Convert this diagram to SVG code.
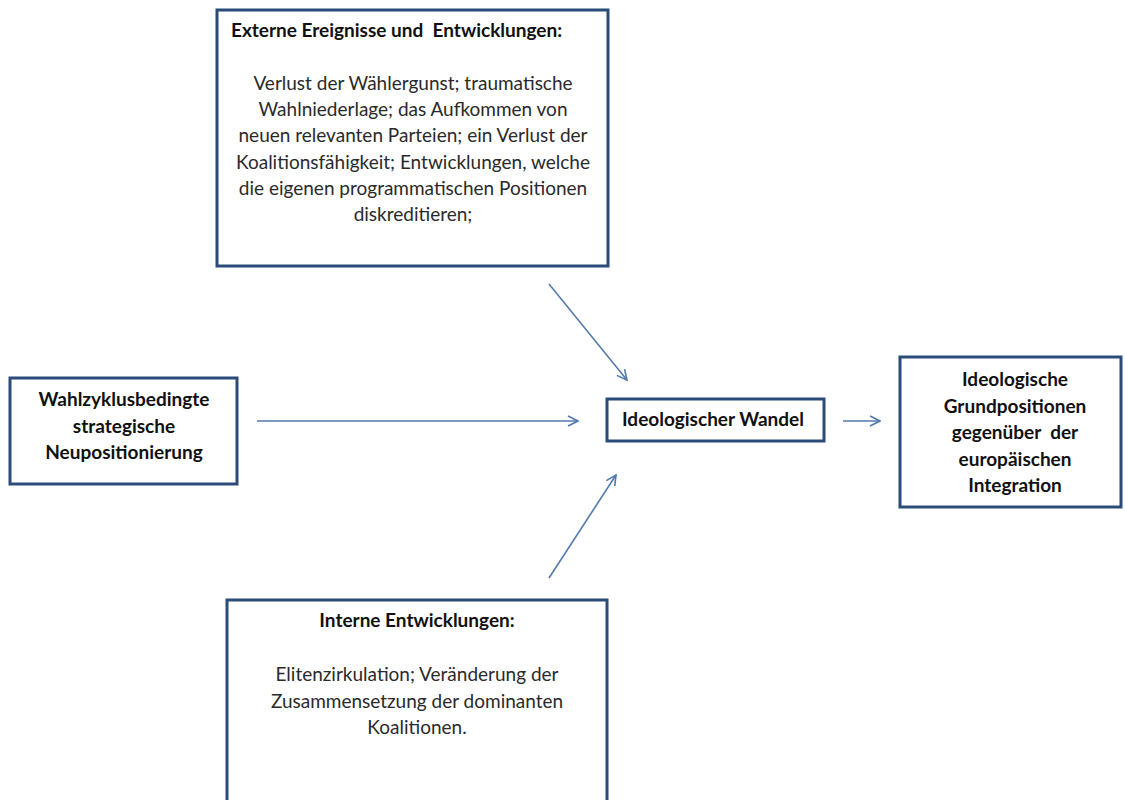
<svg xmlns="http://www.w3.org/2000/svg" width="1125" height="800" viewBox="0 0 1125 800">
<defs>
<style>
.box{fill:#fff;stroke:#2b4b78;stroke-width:3}
.t{font-family:Lato,"Open Sans","DejaVu Sans",sans-serif;font-size:19px;fill:#2a2a2a;text-anchor:middle}
.b{font-weight:bold;fill:#111}
.c{fill:none;stroke:#5379ad;stroke-width:1.6}
</style>
<marker id="ah" viewBox="0 0 12 12" refX="11" refY="6" markerWidth="12" markerHeight="12" markerUnits="userSpaceOnUse" orient="auto">
<path d="M1,1 L11,6 L1,11" fill="none" stroke="#5379ad" stroke-width="1.6"/>
</marker>
</defs>
<rect width="1125" height="800" fill="#fff"/>
<g id="connectors">
<line class="c" x1="549" y1="284" x2="627" y2="380" marker-end="url(#ah)"/>
<line class="c" x1="257" y1="421" x2="578" y2="421" marker-end="url(#ah)"/>
<line class="c" x1="549" y1="578" x2="616" y2="475" marker-end="url(#ah)"/>
<line class="c" x1="843" y1="421" x2="880" y2="421" marker-end="url(#ah)"/>
</g>
<g id="externe">
<rect class="box" x="217" y="10" width="391" height="256"/>
<text class="t b" x="231" y="37" style="text-anchor:start" xml:space="preserve">Externe Ereignisse und  Entwicklungen:</text>
<text class="t" x="413" y="90">Verlust der Wählergunst; traumatische</text>
<text class="t" x="413" y="116">Wahlniederlage; das Aufkommen von</text>
<text class="t" x="413" y="142">neuen relevanten Parteien; ein Verlust der</text>
<text class="t" x="413" y="169">Koalitionsfähigkeit; Entwicklungen, welche</text>
<text class="t" x="413" y="195">die eigenen programmatischen Positionen</text>
<text class="t" x="413" y="221">diskreditieren;</text>
</g>
<g id="wahlzyklus">
<rect class="box" x="10" y="378" width="227" height="106"/>
<text class="t b" x="124" y="406">Wahlzyklusbedingte</text>
<text class="t b" x="124" y="433">strategische</text>
<text class="t b" x="124" y="459">Neupositionierung</text>
</g>
<g id="wandel">
<rect class="box" x="607" y="399" width="217" height="42"/>
<text class="t b" x="713" y="426">Ideologischer Wandel</text>
</g>
<g id="grundpositionen">
<rect class="box" x="900" y="357" width="221" height="150"/>
<text class="t b" x="1015" y="386">Ideologische</text>
<text class="t b" x="1015" y="413">Grundpositionen</text>
<text class="t b" x="1015" y="439" xml:space="preserve">gegenüber  der</text>
<text class="t b" x="1015" y="466">europäischen</text>
<text class="t b" x="1015" y="492">Integration</text>
</g>
<g id="interne">
<rect class="box" x="227" y="600" width="380" height="210"/>
<text class="t b" x="417" y="627">Interne Entwicklungen:</text>
<text class="t" x="417" y="681">Elitenzirkulation; Veränderung der</text>
<text class="t" x="417" y="708">Zusammensetzung der dominanten</text>
<text class="t" x="417" y="734">Koalitionen.</text>
</g>
</svg>
